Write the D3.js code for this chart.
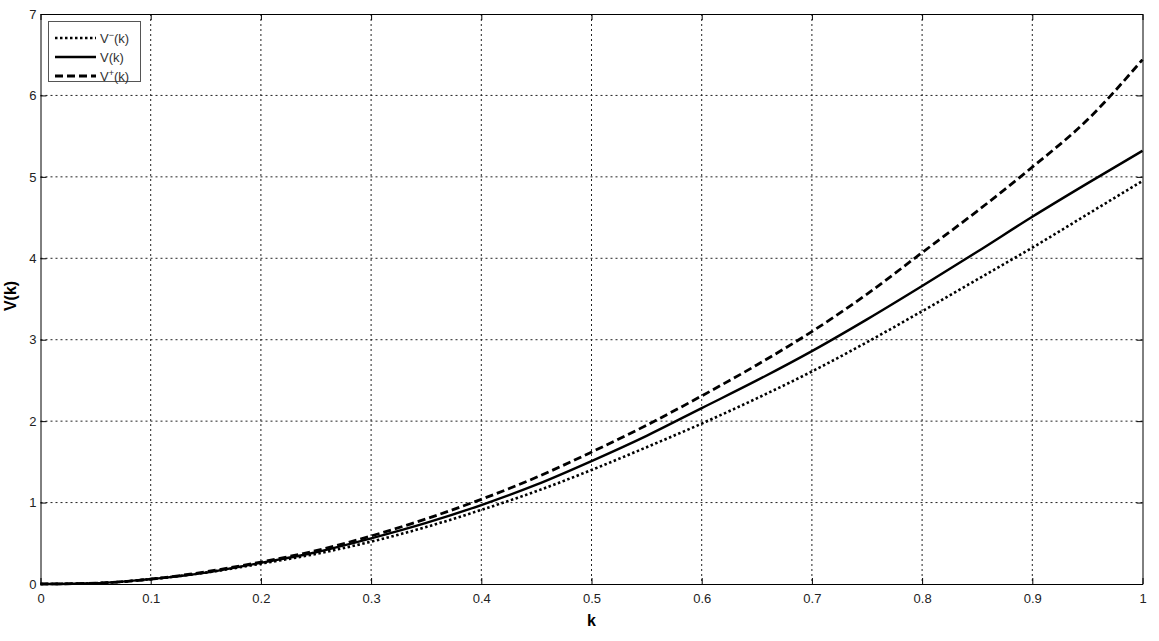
<!DOCTYPE html>
<html>
<head>
<meta charset="utf-8">
<script src="https://cdn.jsdelivr.net/npm/d3@7"></script>
<style>
body { margin: 0; background: #fff; }
text { font-family: "Liberation Sans", Arial, sans-serif; }
</style>
</head>
<body>
<svg id="chart"></svg>
<script>
var kValues = [0, 0.05, 0.1, 0.15, 0.2, 0.25, 0.3, 0.35, 0.4, 0.45, 0.5, 0.55, 0.6, 0.65, 0.7, 0.75, 0.8, 0.85, 0.9, 0.95, 1];
var vMinus = [0, 0.01, 0.06, 0.14, 0.25, 0.37, 0.52, 0.70, 0.91, 1.14, 1.40, 1.68, 1.97, 2.28, 2.61, 2.97, 3.35, 3.74, 4.13, 4.54, 4.95];
var vMid = [0, 0.01, 0.06, 0.14, 0.26, 0.39, 0.56, 0.75, 0.97, 1.22, 1.51, 1.82, 2.16, 2.50, 2.86, 3.25, 3.66, 4.08, 4.51, 4.92, 5.32];
var vPlus = [0, 0.01, 0.06, 0.15, 0.27, 0.41, 0.59, 0.80, 1.04, 1.31, 1.62, 1.95, 2.31, 2.69, 3.10, 3.56, 4.07, 4.58, 5.12, 5.70, 6.44];
var xTicks = [0, 0.1, 0.2, 0.3, 0.4, 0.5, 0.6, 0.7, 0.8, 0.9, 1];
var yTicks = [0, 1, 2, 3, 4, 5, 6, 7];

var width = 1159, height = 641;
var mLeft = 40.5, mRight = 1142.5, mTop = 14, mBottom = 584;

var svg = d3.select("#chart")
    .attr("width", width)
    .attr("height", height);

var x = d3.scaleLinear().domain([0, 1]).range([mLeft, mRight]);
var y = d3.scaleLinear().domain([0, 7]).range([mBottom, mTop]);

// grid
svg.append("g").selectAll("line")
    .data(xTicks.slice(1, -1))
    .enter().append("line")
    .attr("x1", function(d){ return x(d); })
    .attr("x2", function(d){ return x(d); })
    .attr("y1", mTop).attr("y2", mBottom)
    .attr("stroke", "#222")
    .attr("stroke-width", 1)
    .attr("stroke-dasharray", "2,3");
svg.append("g").selectAll("line")
    .data(yTicks.slice(1, -1))
    .enter().append("line")
    .attr("y1", function(d){ return y(d); })
    .attr("y2", function(d){ return y(d); })
    .attr("x1", mLeft).attr("x2", mRight)
    .attr("stroke", "#222")
    .attr("stroke-width", 1)
    .attr("stroke-dasharray", "2,3");

// axes
svg.append("g")
    .attr("transform", "translate(0," + mBottom + ")")
    .call(d3.axisBottom(x).tickValues(xTicks).tickFormat(d3.format("")).tickSizeInner(-6).tickSizeOuter(0).tickPadding(10));
svg.append("g")
    .attr("transform", "translate(0," + mTop + ")")
    .call(d3.axisTop(x).tickValues(xTicks).tickFormat("").tickSizeInner(-6).tickSizeOuter(0));
svg.append("g")
    .attr("transform", "translate(" + mLeft + ",0)")
    .call(d3.axisLeft(y).tickValues(yTicks).tickFormat(d3.format("d")).tickSizeInner(-6).tickSizeOuter(0).tickPadding(4));
svg.append("g")
    .attr("transform", "translate(" + mRight + ",0)")
    .call(d3.axisRight(y).tickValues(yTicks).tickFormat("").tickSizeInner(-6).tickSizeOuter(0));

svg.selectAll(".domain").attr("stroke", "#000");
svg.selectAll(".tick line").attr("stroke", "#000");
svg.selectAll(".tick text")
    .style("font-family", "'Liberation Sans', Arial, sans-serif")
    .style("font-size", "13px")
    .attr("fill", "#222");

// axis labels
svg.append("text")
    .attr("x", x(0.5)).attr("y", 626)
    .attr("text-anchor", "middle")
    .style("font-size", "16px").style("font-weight", "bold")
    .text("k");
svg.append("text")
    .attr("transform", "translate(16,296) rotate(-90)")
    .attr("text-anchor", "middle")
    .style("font-size", "16px").style("font-weight", "bold")
    .text("V(k)");

// curves
var series = [
    { values: vMinus, dash: "2.5,2.5", width: 2.6 },
    { values: vMid, dash: null, width: 2.4 },
    { values: vPlus, dash: "8,4", width: 2.8 }
];
var line = d3.line()
    .x(function(d, i){ return x(kValues[i]); })
    .y(function(d){ return y(d); })
    .curve(d3.curveMonotoneX);

svg.append("g").selectAll("path")
    .data(series)
    .enter().append("path")
    .attr("d", function(d){ return line(d.values); })
    .attr("fill", "none")
    .attr("stroke", "#000")
    .attr("stroke-width", function(d){ return d.width; })
    .attr("stroke-dasharray", function(d){ return d.dash; });

// legend
var legend = svg.append("g");
legend.append("rect")
    .attr("x", 48.5).attr("y", 21.5)
    .attr("width", 92).attr("height", 60)
    .attr("fill", "#fff")
    .attr("stroke", "#555");
var legendItems = [
    { label: "V", sup: "\u2212", dash: "2.5,2.5", width: 2.6 },
    { label: "V", sup: null, dash: null, width: 2.4 },
    { label: "V", sup: "+", dash: "8,4", width: 2.8 }
];
var items = legend.selectAll("g.item")
    .data(legendItems)
    .enter().append("g")
    .attr("transform", function(d, i){ return "translate(0," + (38 + i * 19) + ")"; });
items.append("line")
    .attr("x1", 55).attr("x2", 96)
    .attr("y1", 0).attr("y2", 0)
    .attr("stroke", "#000")
    .attr("stroke-width", function(d){ return d.width; })
    .attr("stroke-dasharray", function(d){ return d.dash; });
items.each(function(d){
    var t = d3.select(this).append("text")
        .attr("x", 100).attr("y", 5)
        .style("font-size", "13px")
        .attr("fill", "#333");
    if (d.sup) {
        t.append("tspan").text(d.label);
        t.append("tspan").attr("dy", -5).style("font-size", "9px").text(d.sup);
        t.append("tspan").attr("dy", 5).text("(k)");
    } else {
        t.text(d.label + "(k)");
    }
});
</script>
</body>
</html>
